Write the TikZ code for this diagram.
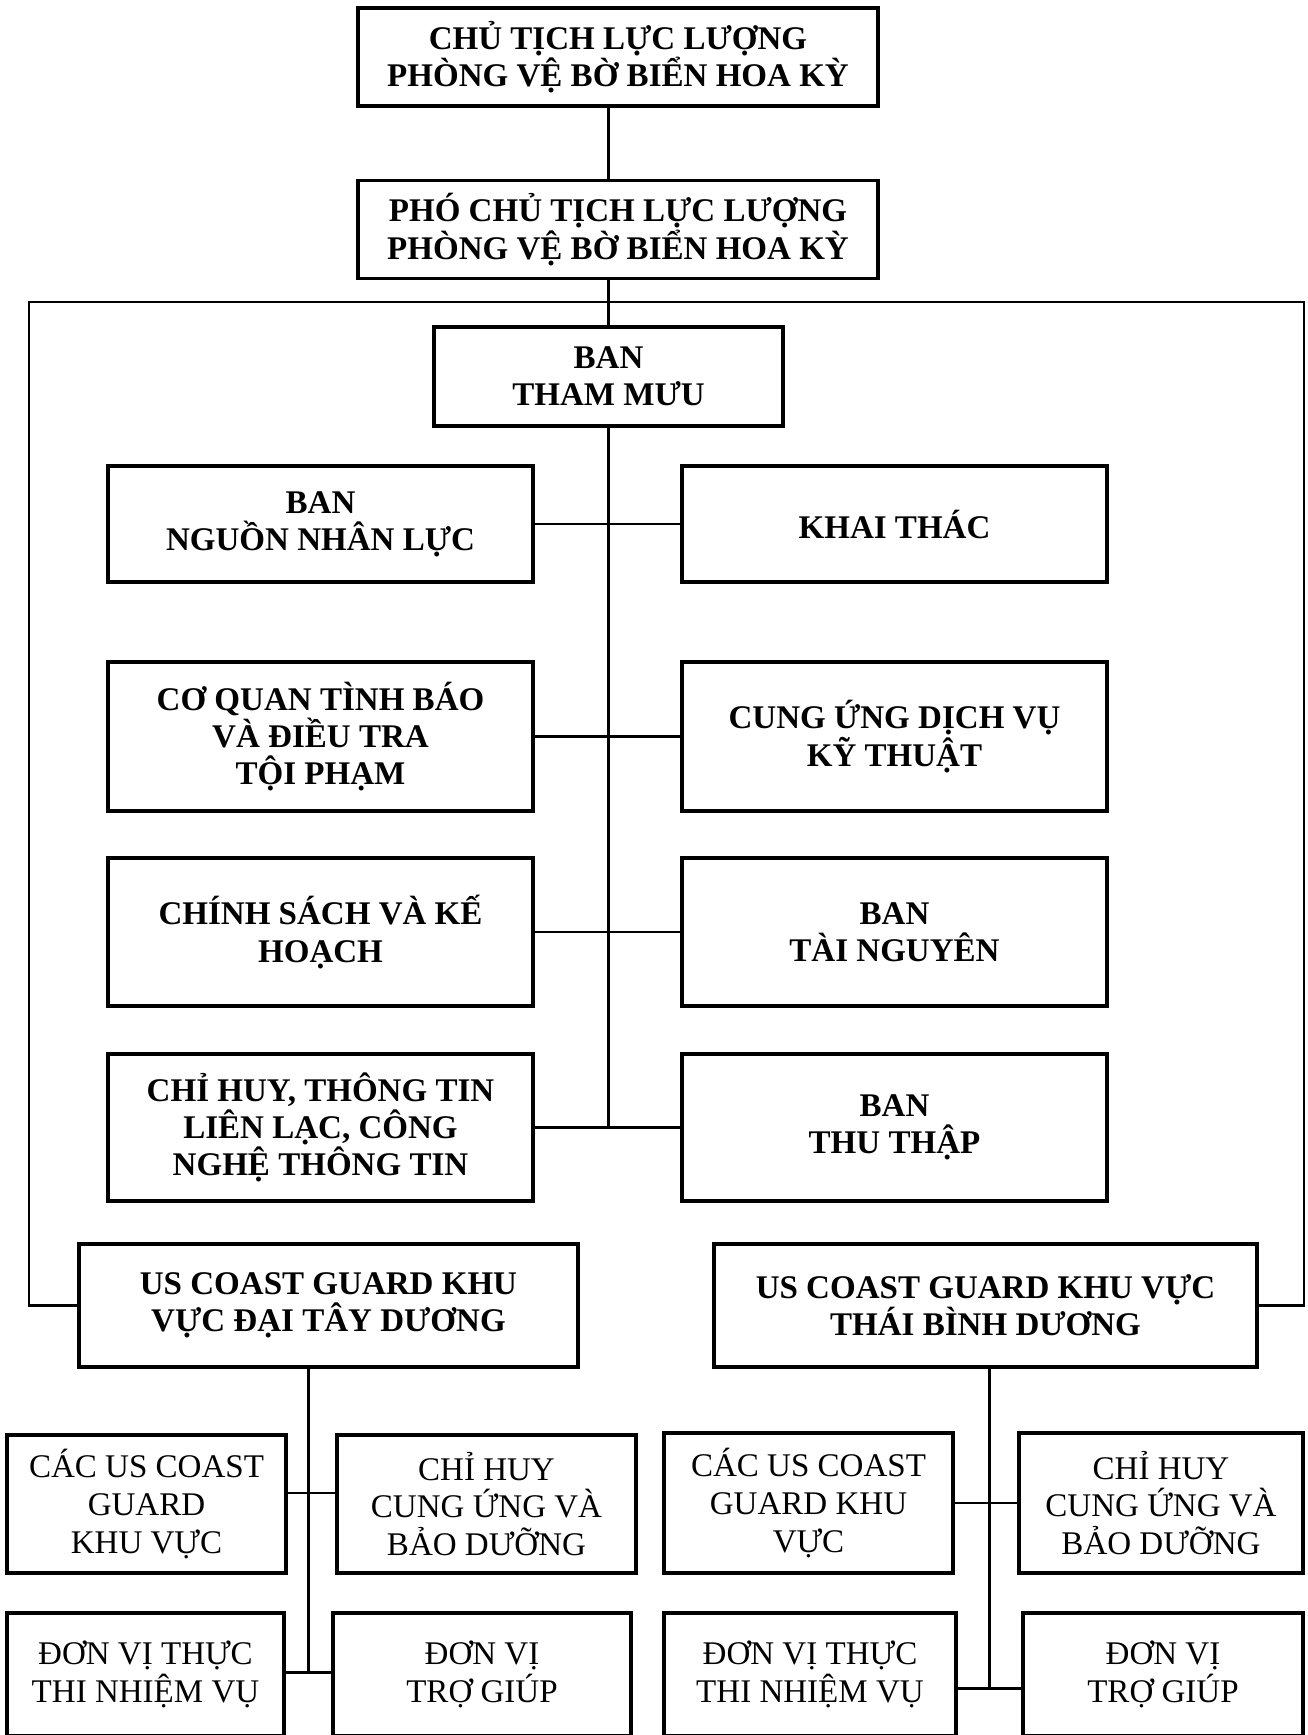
\documentclass[tikz,border=0pt]{standalone}
\usepackage{fontspec}
\setmainfont{Liberation Serif}
\usetikzlibrary{calc}

\begin{document}
\begin{tikzpicture}[
 line width=0.6pt,
 align=center,
 inner sep=1mm,
 box/.style={draw=black,rectangle,line width=0.9pt,font=\fontsize{9.4}{10.6}\selectfont\bfseries},
 head/.style={box,minimum width=5.2cm,minimum height=0.98cm},
 dept/.style={box,minimum width=4.25cm},
 unit/.style={draw=black,rectangle,line width=0.9pt,font=\fontsize{9.4}{10.7}\selectfont}
]
\useasboundingbox (0,0) rectangle (13.08,-17.35);
\clip (0,0) rectangle (13.08,-17.35);
% top of the chain
\node (chair) [head] at (6.18,-0.57) {CHỦ TỊCH LỰC LƯỢNG\\PHÒNG VỆ BỜ BIỂN HOA KỲ};
\node (vice) [head] at (6.18,-2.295) {PHÓ CHỦ TỊCH LỰC LƯỢNG\\PHÒNG VỆ BỜ BIỂN HOA KỲ};
\node (staff) [box,minimum width=3.49cm,minimum height=0.99cm] at (6.085,-3.765) {BAN\\THAM MƯU};
% staff departments
\node (personnel) [dept,minimum height=1.16cm] at (3.205,-5.24) {BAN\\NGUỒN NHÂN LỰC};
\node (operations) [dept,minimum height=1.16cm] at (8.945,-5.24) {KHAI THÁC};
\node (intel) [dept,minimum height=1.49cm] at (3.205,-7.365) {CƠ QUAN TÌNH BÁO\\VÀ ĐIỀU TRA\\TỘI PHẠM};
\node (engineering) [dept,minimum height=1.49cm] at (8.945,-7.365) {CUNG ỨNG DỊCH VỤ\\KỸ THUẬT};
\node (policy) [dept,minimum height=1.48cm] at (3.205,-9.32) {CHÍNH SÁCH VÀ KẾ\\HOẠCH};
\node (resources) [dept,minimum height=1.48cm] at (8.945,-9.32) {BAN\\TÀI NGUYÊN};
\node (c4it) [dept,minimum height=1.47cm] at (3.205,-11.275) {CHỈ HUY, THÔNG TIN\\LIÊN LẠC, CÔNG\\NGHỆ THÔNG TIN};
\node (acquisition) [dept,minimum height=1.47cm] at (8.945,-11.275) {BAN\\THU THẬP};
% areas
\node (atlantic) [box,minimum width=4.99cm,minimum height=1.23cm] at (3.285,-13.055) {US COAST GUARD KHU\\VỰC ĐẠI TÂY DƯƠNG};
\node (pacific) [box,minimum width=5.43cm,minimum height=1.23cm] at (9.855,-13.055) {US COAST GUARD KHU VỰC\\THÁI BÌNH DƯƠNG};
% atlantic units
\node (atl-districts) [unit,minimum width=2.79cm,minimum height=1.38cm] at (1.465,-15.04) {CÁC US COAST\\GUARD\\KHU VỰC};
\node (atl-logistics) [unit,minimum width=2.99cm,minimum height=1.38cm] at (4.865,-15.04) {CHỈ HUY\\CUNG ỨNG VÀ\\BẢO DƯỠNG};
\node (atl-mission) [unit,minimum width=2.77cm,minimum height=1.23cm] at (1.455,-16.745) {ĐƠN VỊ THỰC\\THI NHIỆM VỤ};
\node (atl-support) [unit,minimum width=2.98cm,minimum height=1.23cm] at (4.82,-16.745) {ĐƠN VỊ\\TRỢ GIÚP};
% pacific units
\node (pac-districts) [unit,minimum width=2.89cm,minimum height=1.40cm] at (8.085,-15.03) {CÁC US COAST\\GUARD KHU\\VỰC};
\node (pac-logistics) [unit,minimum width=2.84cm,minimum height=1.40cm] at (11.61,-15.03) {CHỈ HUY\\CUNG ỨNG VÀ\\BẢO DƯỠNG};
\node (pac-mission) [unit,minimum width=2.92cm,minimum height=1.23cm] at (8.10,-16.745) {ĐƠN VỊ THỰC\\THI NHIỆM VỤ};
\node (pac-support) [unit,minimum width=2.80cm,minimum height=1.23cm] at (11.63,-16.745) {ĐƠN VỊ\\TRỢ GIÚP};
% main trunk
\draw (chair.south -| staff) -- (vice.north -| staff);
\draw (vice.south -| staff) -- (staff.north);
\draw (staff.south) -- (staff |- c4it.east);
\draw (personnel.east) -- (operations.west);
\draw (intel.east) -- (engineering.west);
\draw (policy.east) -- (resources.west);
\draw (c4it.east) -- (acquisition.west);
% frame to the areas
\coordinate (frame-nw) at (0.29,-3.02);
\coordinate (frame-ne) at (13.04,-3.02);
\draw (atlantic.west) -| (frame-nw) -- (frame-ne) |- (pacific.east);
% atlantic branch
\coordinate (atl-joint) at ($(atl-mission.east)!0.5!(atl-support.west)+(0,0.02)$);
\draw (atlantic.south -| atl-joint) -- (atl-joint);
\draw ($(atl-districts.east)+(0,0.11)$) -- ($(atl-logistics.west)+(0,0.11)$);
\draw ($(atl-mission.east)+(0,0.02)$) -- ($(atl-support.west)+(0,0.02)$);
% pacific branch
\coordinate (pac-joint) at ($(pac-mission.east)!0.5!(pac-support.west)+(0,-0.14)$);
\draw (pacific.south -| pac-joint) -- (pac-joint);
\draw (pac-districts.east) -- (pac-logistics.west);
\draw ($(pac-mission.east)+(0,-0.14)$) -- ($(pac-support.west)+(0,-0.14)$);
\end{tikzpicture}
\end{document}
